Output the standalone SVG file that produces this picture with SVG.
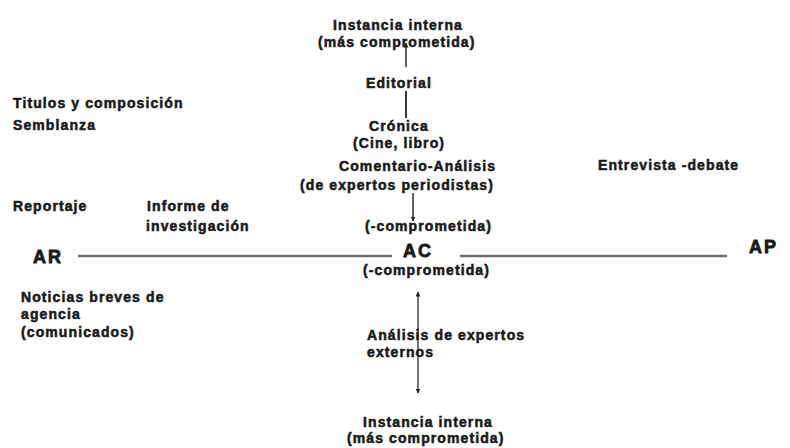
<svg xmlns="http://www.w3.org/2000/svg" width="790" height="448" viewBox="0 0 790 448">
<style>
  text { font-family: "Liberation Sans", Arial, sans-serif; font-weight: bold; fill: #1a1a1a; stroke: #1a1a1a; stroke-width: 0.55px; }
  .t { font-size: 14px; letter-spacing: 1.1px; }
  .big { font-size: 18px; letter-spacing: 2px; stroke-width: 0.8px; }
  .axis { stroke: #6e6e6e; stroke-width: 2.5; fill: none; }
  .conn { stroke: #222; stroke-width: 1.4; fill: none; }
  .conn2 { stroke: #555; stroke-width: 1.6; fill: none; }
</style>
<defs>
  <marker id="ah" viewBox="0 0 10 10" refX="9" refY="5" markerWidth="5" markerHeight="5" orient="auto-start-reverse" markerUnits="userSpaceOnUse">
    <path d="M0,0 L10,5 L0,10 z" fill="#222"/>
  </marker>
</defs>
<rect width="790" height="448" fill="#ffffff"/>

<g id="connectors">
  <line class="axis" x1="78" y1="256" x2="392" y2="256"/>
  <line class="axis" x1="460" y1="256" x2="727" y2="256"/>
  <line class="conn" x1="406" y1="67" x2="406" y2="43" marker-end="url(#ah)"/>
  <line class="conn" x1="406" y1="91" x2="406" y2="118" style="stroke-width:1.8"/>
  <line class="conn" x1="413" y1="193" x2="413" y2="221" marker-end="url(#ah)"/>
  <line class="conn2" x1="418" y1="292" x2="418" y2="393" marker-start="url(#ah)" marker-end="url(#ah)"/>
</g>

<g id="instancia-top">
  <text class="t" x="333" y="30">Instancia interna</text>
  <text class="t" x="318" y="47">(más comprometida)</text>
</g>
<g id="editorial">
  <text class="t" x="366" y="88">Editorial</text>
</g>
<g id="cronica">
  <text class="t" x="369" y="131">Crónica</text>
  <text class="t" x="353" y="148">(Cine, libro)</text>
</g>
<g id="comentario">
  <text class="t" x="339" y="171">Comentario-Análisis</text>
  <text class="t" x="300" y="190">(de expertos periodistas)</text>
</g>
<g id="comprometida-menos-1">
  <text class="t" x="365" y="231">(-comprometida)</text>
</g>
<g id="ac">
  <text class="big" x="403" y="257">AC</text>
  <text class="t" x="363" y="275">(-comprometida)</text>
</g>
<g id="ar">
  <text class="big" x="33" y="263">AR</text>
</g>
<g id="ap">
  <text class="big" x="749" y="253">AP</text>
</g>
<g id="entrevista">
  <text class="t" x="598" y="170">Entrevista -debate</text>
</g>
<g id="titulos">
  <text class="t" x="13" y="108">Titulos y composición</text>
</g>
<g id="semblanza">
  <text class="t" x="13" y="130">Semblanza</text>
</g>
<g id="reportaje">
  <text class="t" x="13" y="211">Reportaje</text>
</g>
<g id="informe">
  <text class="t" x="147" y="211">Informe de</text>
  <text class="t" x="146" y="231">investigación</text>
</g>
<g id="noticias">
  <text class="t" x="21" y="302">Noticias breves de</text>
  <text class="t" x="21" y="319">agencia</text>
  <text class="t" x="21" y="337">(comunicados)</text>
</g>
<g id="analisis-externos">
  <text class="t" x="367" y="340">Análisis de expertos</text>
  <text class="t" x="367" y="357">externos</text>
</g>
<g id="instancia-bottom">
  <text class="t" x="363" y="427">Instancia interna</text>
  <text class="t" x="347" y="443">(más comprometida)</text>
</g>
</svg>
